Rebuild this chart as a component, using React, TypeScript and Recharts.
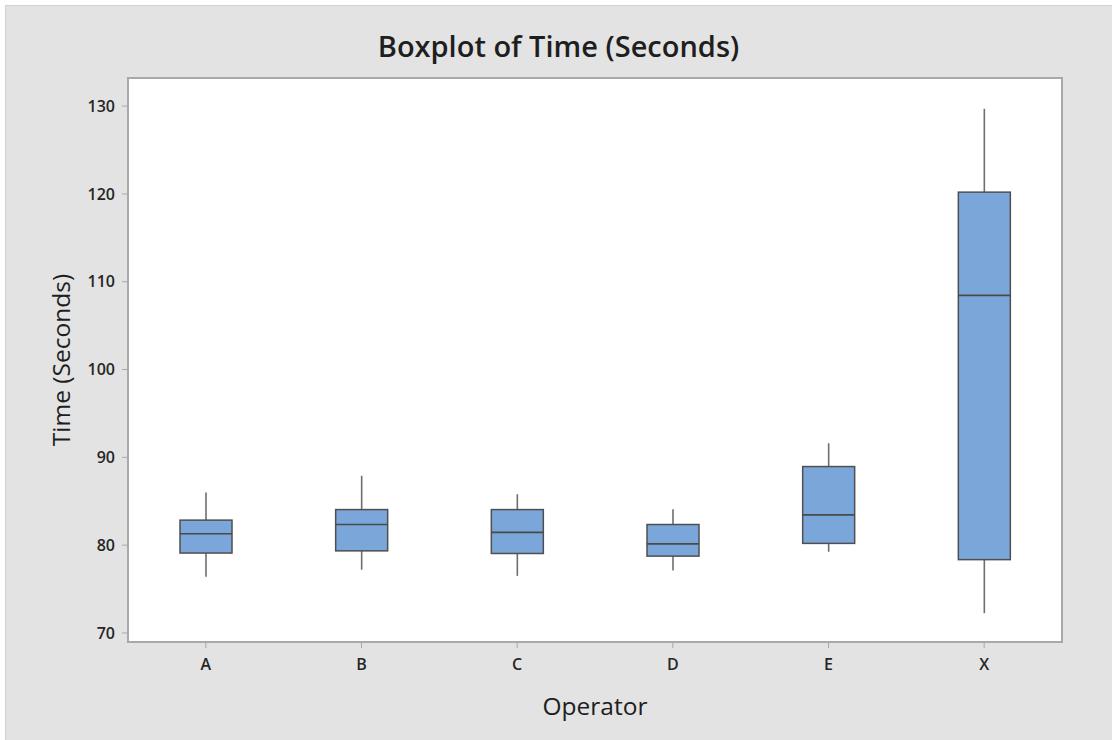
import { ComposedChart, Bar, XAxis, YAxis, ReferenceArea } from "recharts";

// Operator groups and their five-number summaries (seconds)
const operators = ["A", "B", "C", "D", "E", "X"];
const whiskerLow = [76.4, 77.2, 76.5, 77.1, 79.25, 72.25];
const quartile1 = [79.1, 79.35, 79.05, 78.75, 80.2, 78.35];
const medians = [81.3, 82.35, 81.45, 80.15, 83.45, 108.45];
const quartile3 = [82.85, 84.05, 84.05, 82.35, 88.95, 120.2];
const whiskerHigh = [86.0, 87.9, 85.8, 84.1, 91.6, 129.7];
const yTicks = [70, 80, 90, 100, 110, 120, 130];
const yDomain = [68.97, 133.2];

const data = operators.map((op, i) => ({
  operator: op,
  min: whiskerLow[i],
  q1: quartile1[i],
  median: medians[i],
  q3: quartile3[i],
  max: whiskerHigh[i],
  range: [whiskerLow[i], whiskerHigh[i]],
}));

const FONT = "'Open Sans', 'Noto Sans', sans-serif";
const AXIS_GRAY = "#a9a9a9";
const tickStyle = { fill: "#262626", fontSize: 16, fontWeight: 600, fontFamily: FONT };

// The bar spans min..max; box, median and whiskers are placed inside that span
const BoxShape = (props: any) => {
  const { x, y, width, height, payload } = props;
  const { min, q1, median, q3, max } = payload;
  const top = Math.min(y, y + height);
  const h = Math.abs(height);
  const toY = (v: number) => top + ((max - v) / (max - min)) * h;
  const cx = x + width / 2;
  return (
    <g>
      <line x1={cx} x2={cx} y1={toY(max)} y2={toY(q3)} stroke="#6e6e6e" strokeWidth={1.6} />
      <line x1={cx} x2={cx} y1={toY(q1)} y2={toY(min)} stroke="#6e6e6e" strokeWidth={1.6} />
      <rect
        x={x}
        y={toY(q3)}
        width={width}
        height={toY(q1) - toY(q3)}
        fill="#7ba6d9"
        stroke="#4f4f4f"
        strokeWidth={1.5}
      />
      <line x1={x} x2={x + width} y1={toY(median)} y2={toY(median)} stroke="#4a4a4a" strokeWidth={1.6} />
    </g>
  );
};

export default function App() {
  return (
    <div style={{ position: "absolute", left: 0, top: 0, width: 1112, height: 740, background: "#ffffff", fontFamily: FONT }}>
      <div
        style={{
          position: "absolute",
          left: 5,
          top: 5,
          width: 1107,
          height: 735,
          background: "#e3e3e3",
          borderTop: "1px solid #d2d2d2",
          borderLeft: "1px solid #d2d2d2",
          boxSizing: "border-box",
        }}
      />
      <div
        style={{
          position: "absolute",
          left: 0,
          top: 26,
          width: 1117,
          textAlign: "center",
          fontSize: 29,
          fontWeight: 600,
          lineHeight: 1.362,
          color: "#1e1e1e",
        }}
      >
        Boxplot of Time (Seconds)
      </div>
      <div style={{ position: "absolute", left: 0, top: 0 }}>
        <ComposedChart
          width={1112}
          height={740}
          data={data}
          margin={{ top: 78, right: 50, bottom: 18, left: 48 }}
        >
          {/* white plot panel with its gray frame */}
          <ReferenceArea
            y1={yDomain[0]}
            y2={yDomain[1]}
            fill="#ffffff"
            fillOpacity={1}
            stroke={AXIS_GRAY}
            strokeWidth={2}
            ifOverflow="visible"
          />
          <XAxis
            dataKey="operator"
            stroke={AXIS_GRAY}
            strokeWidth={2}
            tickSize={6}
            tickMargin={11}
            height={80}
            tick={tickStyle}
            tickLine={{ stroke: AXIS_GRAY, strokeWidth: 1 }}
            label={{
              value: "Operator",
              position: "insideBottom",
              offset: 7,
              style: { fill: "#1e1e1e", fontSize: 24.5, fontFamily: FONT },
            }}
          />
          <YAxis
            type="number"
            domain={yDomain}
            ticks={yTicks}
            width={80}
            stroke={AXIS_GRAY}
            strokeWidth={2}
            tickSize={6}
            tickMargin={7}
            tick={tickStyle}
            tickLine={{ stroke: AXIS_GRAY, strokeWidth: 1 }}
            label={{
              value: "Time (Seconds)",
              angle: -90,
              position: "insideLeft",
              offset: 13,
              style: { textAnchor: "middle", fill: "#1e1e1e", fontSize: 24.5, fontFamily: FONT },
            }}
          />
          <Bar dataKey="range" barSize={52} shape={BoxShape} isAnimationActive={false} />
        </ComposedChart>
      </div>
    </div>
  );
}
